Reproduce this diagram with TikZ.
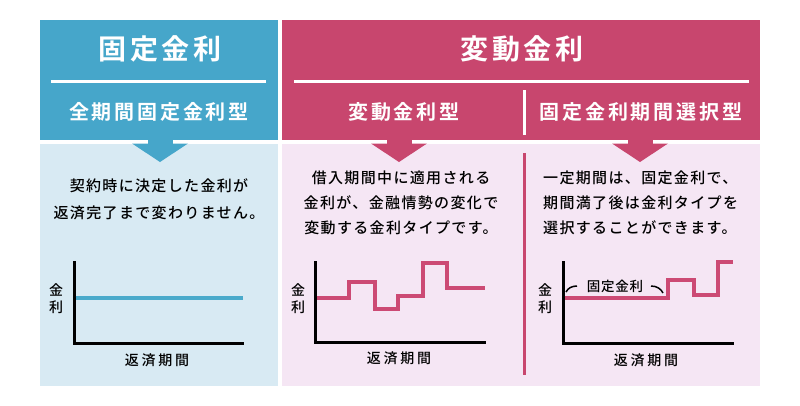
\documentclass[tikz,border=0pt]{standalone}
\usepackage{fontspec}
\newfontfamily\jpB[LetterSpace=8]{Noto Sans CJK JP Bold}
\newfontfamily\jpM[LetterSpace=9]{Noto Sans CJK JP Medium}
\definecolor{hblue}{HTML}{46A6CA}
\definecolor{lblue}{HTML}{D8EAF3}
\definecolor{hpink}{HTML}{C8466E}
\definecolor{lpink}{HTML}{F5E6F4}
\definecolor{gblue}{HTML}{4AAACB}
\definecolor{gpink}{HTML}{CC4A74}
\tikzset{
  title/.style={text=white, font=\jpB\addfontfeature{LetterSpace=12}\fontsize{28}{30}\selectfont, inner sep=0pt},
  subtitle/.style={text=white, font=\jpB\addfontfeature{LetterSpace=14}\fontsize{20}{22}\selectfont, inner sep=0pt},
  body/.style={text=black, font=\jpM\fontsize{15}{25}\selectfont, inner sep=0pt},
  axlabel/.style={text=black, font=\jpM\fontsize{14}{17}\selectfont, inner sep=0pt, align=center},
  xlabel/.style={text=black, font=\jpM\addfontfeature{LetterSpace=20}\fontsize{14}{16}\selectfont, inner sep=0pt},
  axis/.style={line width=3pt, black},
  rateline/.style={line width=4.5pt},
}
\begin{document}
\begin{tikzpicture}[x=1pt,y=-1pt]
\useasboundingbox (0,0) rectangle (800,405);
% panels
\fill[lblue] (40,144) rectangle (278,386);
\fill[lpink] (282,144) rectangle (760,386);
\fill[hblue] (40,20) rectangle (278,140);
\fill[hpink] (282,20) rectangle (760,140);
% pointer arrows
\fill[hblue] (147.5,139) rectangle (172.5,144);
\fill[hblue] (132,143.5) -- (188,143.5) -- (160,162) -- cycle;
\fill[hpink] (386.5,139) rectangle (411.5,144);
\fill[hpink] (371,143.5) -- (427,143.5) -- (399,162) -- cycle;
\fill[hpink] (627.5,139) rectangle (652.5,144);
\fill[hpink] (612,143.5) -- (668,143.5) -- (640,162) -- cycle;
% header rules
\fill[white] (51,80) rectangle (266,83.3);
\fill[white] (294,80) rectangle (749,83.3);
\fill[white] (522.5,90) rectangle (525.5,135);
% divider in lower pink panel
\fill[hpink] (522.5,153) rectangle (525.5,375);
% header texts
\node[title] (t1) at (160,49) {固定金利};
\node[title] (t2) at (522,49) {変動金利};
\node[subtitle] (s1) at (159,112) {全期間固定金利型};
\node[subtitle] (s2) at (404,112) {変動金利型};
\node[subtitle] (s3) at (641,112) {固定金利期間選択型};
% body texts
\node[body, align=center, font=\jpM\fontsize{15}{27}\selectfont] (b1) at (159,199.5) {契約時に決定した金利が\\返済完了まで変わりません。};
\node[body, align=center] (b2) at (401,202.5) {借入期間中に適用される\\金利が、金融情勢の変化で\\変動する金利タイプです。};
\node[body, align=left, anchor=west] (b3) at (543,202.5) {一定期間は、固定金利で、\\期間満了後は金利タイプを\\選択することができます。};
% chart 1
\coordinate (o1) at (74,343);
\coordinate (y1) at (74,261);
\coordinate (x1) at (244,343);
\draw[axis] (y1) -- (o1) -- (x1);
\draw[rateline, gblue] (75.5,298) -- (243,298);
\node[axlabel] (k1) at (56,298.5) {金\\利};
\node[xlabel] (r1) at (157,360) {返済期間};
% chart 2
\coordinate (o2) at (315,342);
\coordinate (y2) at (315,261);
\coordinate (x2) at (486,342);
\draw[axis] (y2) -- (o2) -- (x2);
\draw[rateline, gpink] (316.5,298) -- (349,298) -- (349,282) -- (375,282) -- (375,309) -- (398,309) -- (398,296) -- (423,296) -- (423,263) -- (447,263) -- (447,288) -- (485,288);
\node[axlabel] (k2) at (298,298.5) {金\\利};
\node[xlabel] (r2) at (399,358) {返済期間};
% chart 3
\coordinate (o3) at (563,343);
\coordinate (y3) at (563,261);
\coordinate (x3) at (734,343);
\draw[axis] (y3) -- (o3) -- (x3);
\draw[rateline, gpink] (564.5,298) -- (668,298) -- (668,280) -- (694,280) -- (694,295) -- (718,295) -- (718,262) -- (733,262);
\node[axlabel] (k3) at (545,298.5) {金\\利};
\node[xlabel] (r3) at (646,360) {返済期間};
\node[axlabel, font=\jpM\addfontfeature{LetterSpace=6}\fontsize{13.5}{16}\selectfont] (f3) at (615,286.5) {固定金利};
\draw[line width=1.5pt] (566,292) .. controls (568,288) and (572,286) .. (577,286);
\draw[line width=1.5pt] (651,286) .. controls (657,286) and (661,289) .. (663,293);
\end{tikzpicture}
\end{document}
